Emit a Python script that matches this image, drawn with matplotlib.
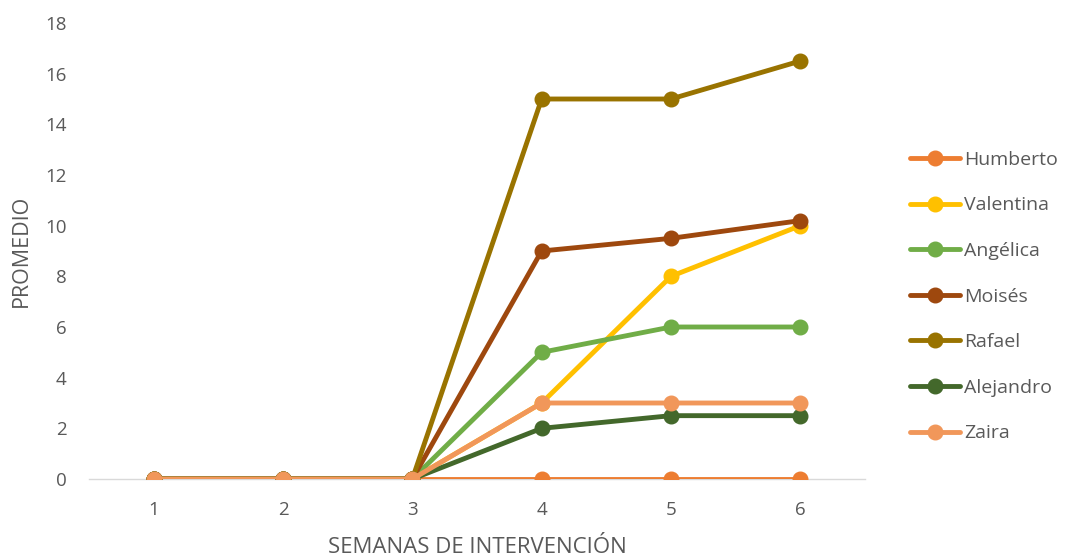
import matplotlib
matplotlib.use("Agg")
import matplotlib.pyplot as plt

semanas = [1, 2, 3, 4, 5, 6]
humberto = [0, 0, 0, 0, 0, 0]
valentina = [0, 0, 0, 3, 8, 10]
angelica = [0, 0, 0, 5, 6, 6]
moises = [0, 0, 0, 9, 9.5, 10.2]
rafael = [0, 0, 0, 15, 15, 16.5]
alejandro = [0, 0, 0, 2, 2.5, 2.5]
zaira = [0, 0, 0, 3, 3, 3]

series = [
    ("Humberto", humberto, "#ED7D31"),
    ("Valentina", valentina, "#FFC000"),
    ("Angélica", angelica, "#70AD47"),
    ("Moisés", moises, "#9E480E"),
    ("Rafael", rafael, "#997300"),
    ("Alejandro", alejandro, "#43682B"),
    ("Zaira", zaira, "#F1975A"),
]

plt.rcParams["font.family"] = ["Open Sans", "DejaVu Sans"]
text_col = "#595959"

fig = plt.figure(figsize=(10.65, 5.58), dpi=100)
ax = fig.add_axes([89 / 1065, 1 - 479 / 558, (865 - 89) / 1065, (479 - 23) / 558])

for name, vals, col in series:
    ax.plot(semanas, vals, color=col, lw=3.5, marker="o", ms=10.5,
            solid_capstyle="round", label=name)

ax.set_xlim(0.5, 6.5)
ax.set_ylim(0, 18)
ax.set_xticks(semanas)
ax.set_yticks(range(0, 19, 2))
for s in ["top", "right", "left"]:
    ax.spines[s].set_visible(False)
ax.spines["bottom"].set_color("#D9D9D9")
ax.spines["bottom"].set_linewidth(1)
ax.spines["bottom"].set_zorder(0)
ax.tick_params(axis="both", length=0, labelsize=13.5, colors=text_col)
ax.tick_params(axis="y", pad=16)
ax.tick_params(axis="x", pad=16)

ax.set_xlabel("SEMANAS DE INTERVENCIÓN", fontsize=16, color=text_col, labelpad=12.5)
ax.set_ylabel("PROMEDIO", fontsize=15.5, color=text_col, labelpad=10)

ax.legend(loc="center left", bbox_to_anchor=(1.035, 0.40), frameon=False,
          fontsize=14, labelspacing=1.42, handlelength=2.6,
          handletextpad=0.2, labelcolor=text_col)

fig.savefig("out.png", dpi=100)
